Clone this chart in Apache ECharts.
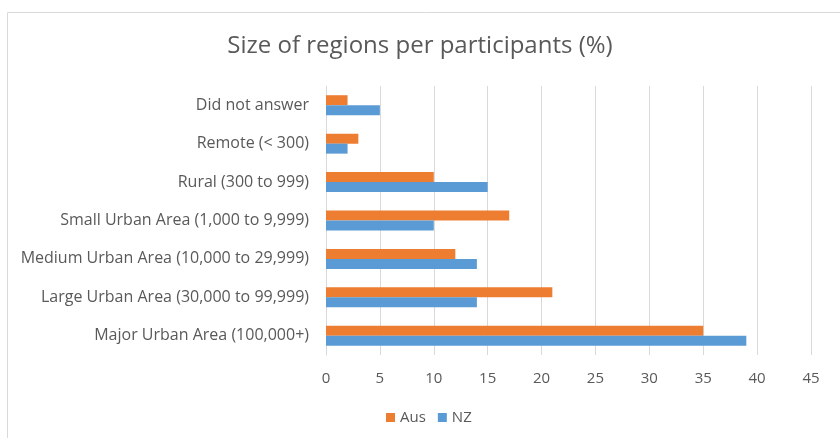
<!DOCTYPE html>
<html><head><meta charset="utf-8">
<script src="https://cdn.jsdelivr.net/npm/echarts@6/dist/echarts.min.js"></script>
<style>html,body{margin:0;padding:0;background:#fff}#c{width:840px;height:438px}</style>
</head><body><div id="c"></div>
<script>
var categories = ['Major Urban Area (100,000+)','Large Urban Area (30,000 to 99,999)','Medium Urban Area (10,000 to 29,999)','Small Urban Area (1,000 to 9,999)','Rural (300 to 999)','Remote (< 300)','Did not answer'];
var aus = [35, 21, 12, 17, 10, 3, 2];
var nz = [39, 14, 14, 10, 15, 2, 5];
var xTicks = {min: 0, max: 45, interval: 5};
var font = '"Open Sans", sans-serif';
var chart = echarts.init(document.getElementById('c'), null, {renderer: 'canvas'});
chart.setOption({
  animation: false,
  graphic: [{type: 'rect', shape: {x: 7.5, y: 12.5, width: 900, height: 500}, style: {fill: 'none', stroke: '#d9d9d9', lineWidth: 1}, silent: true}],
  title: {text: 'Size of regions per participants (%)', left: 'center', top: 29,
    textStyle: {fontFamily: font, fontSize: 24, fontWeight: 'normal', color: '#595959'}},
  legend: {data: ['Aus', 'NZ'], bottom: 8, left: 381, itemWidth: 9, itemHeight: 9, itemGap: 12, icon: 'rect',
    textStyle: {fontFamily: font, fontSize: 15, color: '#595959'}},
  grid: {left: 326, right: 29, top: 86, bottom: 83, containLabel: false},
  xAxis: {type: 'value', min: xTicks.min, max: xTicks.max, interval: xTicks.interval,
    axisLine: {show: false}, axisTick: {show: false},
    splitLine: {lineStyle: {color: '#d9d9d9', width: 1}},
    axisLabel: {fontFamily: font, fontSize: 15, color: '#595959', margin: 16}},
  yAxis: {type: 'category', data: categories,
    axisLine: {show: true, lineStyle: {color: '#d9d9d9'}}, axisTick: {show: false},
    axisLabel: {fontFamily: font, fontSize: 16, color: '#595959', margin: 17}},
  series: [
    {name: 'Aus', type: 'bar', data: aus, itemStyle: {color: '#ED7D31'}, barWidth: 10, barGap: '0%'},
    {name: 'NZ', type: 'bar', data: nz, itemStyle: {color: '#5B9BD5'}, barWidth: 10, barGap: '0%'}
  ]
});
</script></body></html>
